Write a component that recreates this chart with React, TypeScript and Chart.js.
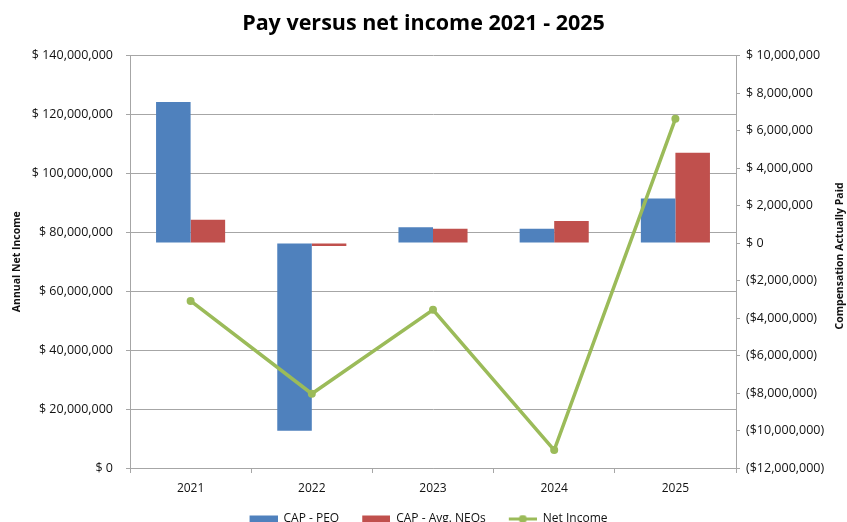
import { useEffect, useRef } from "react";
import { Chart, registerables } from "chart.js";

Chart.register(...registerables);

const years = ["2021", "2022", "2023", "2024", "2025"];
const capPeo = [7520000, -10010000, 840000, 760000, 2370000];
const capNeo = [1240000, -160000, 760000, 1170000, 4810000];
const netIncome = [56700000, 25200000, 53700000, 6100000, 118500000];

const leftTicks = [0, 140000000, 20000000];
const rightTicks = [-12000000, 10000000, 2000000];

const BLUE = "#4F81BD";
const RED = "#C0504D";
const GREEN = "#9BBB59";
const GRID = "#a6a6a6";
const FONT = "'Open Sans', sans-serif";

const fmt = (v: number) => Math.abs(v).toLocaleString("en-US");

// legend swatches: a bar box or a line with a dot, with some empty room on the left
// so the items sit further apart
function swatch(color: string, kind: "bar" | "line") {
  const c = document.createElement("canvas");
  c.width = 38;
  c.height = 9;
  const g = c.getContext("2d")!;
  g.fillStyle = color;
  if (kind === "bar") {
    g.fillRect(10, 1, 28, 7);
  } else {
    g.fillRect(10, 3, 28, 3);
    g.beginPath();
    g.arc(24, 4.5, 4, 0, Math.PI * 2);
    g.fill();
  }
  return c;
}

const rightTitle = {
  id: "rightTitle",
  afterDraw(chart: Chart) {
    const ctx = chart.ctx;
    ctx.save();
    ctx.translate(840, 256);
    ctx.rotate(-Math.PI / 2);
    ctx.font = `bold 10.5px ${FONT}`;
    ctx.fillStyle = "#111";
    ctx.textAlign = "center";
    ctx.textBaseline = "middle";
    ctx.fillText("Compensation Actually Paid", 0, 0);
    ctx.restore();
  },
};

export default function App() {
  const chartRef = useRef<HTMLCanvasElement>(null);
  const chartInstance = useRef<Chart | null>(null);

  useEffect(() => {
    document.body.style.margin = "0";
    if (!chartRef.current) return;
    if (chartInstance.current) chartInstance.current.destroy();

    const ctx = chartRef.current.getContext("2d");
    if (!ctx) return;

    const swatches = [swatch(BLUE, "bar"), swatch(RED, "bar"), swatch(GREEN, "line")];

    chartInstance.current = new Chart(ctx, {
      type: "bar",
      data: {
        labels: years,
        datasets: [
          {
            type: "bar",
            label: "CAP - PEO",
            data: capPeo,
            backgroundColor: BLUE,
            yAxisID: "y1",
            order: 2,
            barPercentage: 1,
            categoryPercentage: 0.57,
          },
          {
            type: "bar",
            label: "CAP - Avg. NEOs",
            data: capNeo,
            backgroundColor: RED,
            yAxisID: "y1",
            order: 2,
            barPercentage: 1,
            categoryPercentage: 0.57,
          },
          {
            type: "line",
            label: "Net Income",
            data: netIncome,
            borderColor: GREEN,
            backgroundColor: GREEN,
            borderWidth: 3.5,
            pointRadius: 4,
            pointBackgroundColor: GREEN,
            pointBorderWidth: 0,
            yAxisID: "y",
            order: 1,
          } as any,
        ],
      },
      options: {
        responsive: true,
        maintainAspectRatio: false,
        animation: false,
        layout: { padding: { top: 0, left: 0, right: 0, bottom: -13 } },
        plugins: {
          title: {
            display: true,
            text: "Pay versus net income 2021 - 2025",
            color: "#000",
            font: { family: FONT, size: 21.5, weight: "bold" },
            padding: { top: 11, bottom: 18.7 },
          },
          legend: {
            position: "bottom",
            labels: {
              usePointStyle: true,
              pointStyleWidth: 38,
              padding: 13,
              color: "#111",
              font: { family: FONT, size: 12 },
              generateLabels: (chart) =>
                chart.data.datasets.map((ds, i) => ({
                  text: ds.label as string,
                  datasetIndex: i,
                  pointStyle: swatches[i],
                  fillStyle: "transparent",
                  strokeStyle: "transparent",
                  lineWidth: 0,
                  hidden: false,
                  fontColor: "#111",
                })),
            },
          },
          tooltip: { enabled: false },
        },
        scales: {
          x: {
            afterFit: (s) => {
              s.height = 32;
            },
            grid: { drawOnChartArea: false, drawTicks: true, tickLength: 5, color: GRID },
            border: { color: GRID },
            ticks: { color: "#111", padding: 8, font: { family: FONT, size: 12 } },
          },
          y: {
            position: "left",
            min: leftTicks[0],
            max: leftTicks[1],
            afterFit: (s) => {
              s.width = 130;
            },
            grid: { color: GRID, tickLength: 4 },
            border: { color: GRID },
            title: {
              display: true,
              text: "Annual Net Income",
              color: "#111",
              font: { family: FONT, size: 10.5, weight: "bold" },
              padding: { top: 11 },
            },
            ticks: {
              stepSize: leftTicks[2],
              color: "#111",
              padding: 13,
              font: { family: FONT, size: 12.5 },
              callback: (v) => "$ " + fmt(v as number),
            },
          },
          y1: {
            position: "right",
            min: rightTicks[0],
            max: rightTicks[1],
            afterFit: (s) => {
              s.width = 111;
            },
            grid: { drawOnChartArea: false, tickLength: 4, color: GRID },
            border: { color: GRID },
            ticks: {
              stepSize: rightTicks[2],
              color: "#111",
              padding: 6,
              font: { family: FONT, size: 12.5 },
              callback: (v) => {
                const n = v as number;
                return n < 0 ? "($" + fmt(n) + ")" : "$ " + fmt(n);
              },
            },
          },
        },
      },
      plugins: [rightTitle],
    });

    return () => {
      if (chartInstance.current) {
        chartInstance.current.destroy();
        chartInstance.current = null;
      }
    };
  }, []);

  return (
    <div style={{ position: "relative", width: 847, height: 522 }}>
      <canvas ref={chartRef}></canvas>
    </div>
  );
}
